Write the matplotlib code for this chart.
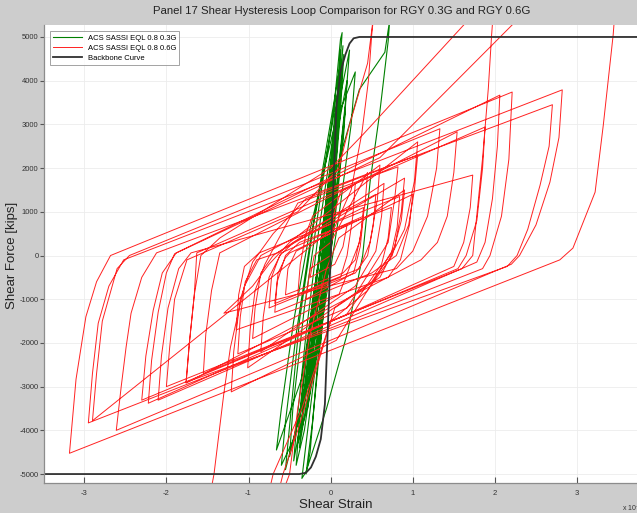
import numpy as np
import matplotlib
matplotlib.use('Agg')
import matplotlib.pyplot as plt

plt.rcParams['font.family'] = ['Liberation Sans Narrow', 'Liberation Sans', 'DejaVu Sans']
plt.rcParams['axes.unicode_minus'] = False

# ---------------- data (strain x1e-3, force kips) ----------------
title = 'Panel 17 Shear Hysteresis Loop Comparison for RGY 0.3G and RGY 0.6G'
series_names = ['ACS SASSI EQL 0.8 0.3G', 'ACS SASSI EQL 0.8 0.6G', 'Backbone Curve']

x_ticks = [-3, -2, -1, 0, 1, 2, 3]
y_ticks = [-5000, -4000, -3000, -2000, -1000, 0, 1000, 2000, 3000, 4000, 5000]

backbone = [(-3.6, -5000), (-0.38, -5000), (-0.30, -4970), (-0.24, -4850), (-0.18, -4600),
            (-0.12, -4200), (-0.07, -3400), (0.00, 0), (0.07, 3400), (0.12, 4200),
            (0.18, 4600), (0.23, 4850), (0.28, 4970), (0.35, 5000), (3.9, 5000)]

# 0.3G run (green), steep narrow loops
green = [(0.00, 0), (0.04, 1800), (0.10, 3600), (0.14, 4300),
         (0.10, 3000), (0.00, 800), (-0.10, -1200), (-0.20, -2600), (-0.28, -3500),
         (-0.24, -2400), (-0.12, -200), (0.00, 1800), (0.08, 3500), (0.15, 4800),
         (0.11, 3700), (0.02, 1500), (-0.10, -800), (-0.30, -3200), (-0.45, -4700),
         (-0.40, -3600), (-0.30, -1800), (-0.15, 500), (0.05, 3000), (0.23, 4700),
         (0.18, 3500), (0.05, 1200), (-0.15, -1500), (-0.40, -3800), (-0.55, -4900),
         (-0.50, -3900), (-0.38, -1500), (-0.20, 800), (0.02, 3000), (0.12, 4950), (0.14, 5100),
         (0.10, 4000), (0.00, 2000), (-0.15, -200), (-0.35, -2800), (-0.66, -4450),
         (-0.60, -3500), (-0.45, -1500), (-0.25, 600), (0.05, 3000), (0.30, 4200),
         (0.25, 3000), (0.10, 900), (-0.10, -1500), (-0.30, -3600), (-0.40, -4300),
         (-0.36, -3300), (-0.22, -1000), (0.00, 1500), (0.35, 3800), (0.66, 4650), (0.72, 5400),
         (0.70, 4900), (0.60, 3300), (0.48, 1680), (0.39, 0), (0.20, -1800), (-0.05, -3500),
         (-0.30, -4950), (-0.35, -5100),
         (-0.28, -4000), (-0.15, -2000), (0.00, 0), (0.10, 2000), (0.18, 3400),
         (0.13, 2300), (0.00, 300), (-0.15, -1800), (-0.25, -3000),
         (-0.18, -1500), (-0.05, 500), (0.06, 2500), (0.10, 3600),
         (0.05, 2200), (-0.05, 0), (-0.12, -2000),
         (-0.05, -500), (0.05, 1500), (0.02, 800), (-0.02, 0)]

green_late = [(-0.02, 0), (0.06, 2000), (0.12, 3800), (0.16, 4600),
              (0.12, 3300), (0.02, 1000), (-0.15, -1800), (-0.32, -4000), (-0.42, -4800),
              (-0.38, -3800), (-0.28, -2000), (-0.10, 600), (0.05, 2800), (0.10, 4200),
              (0.06, 3000), (-0.05, 600), (-0.22, -2200), (-0.45, -4200), (-0.60, -4800),
              (-0.55, -3800), (-0.42, -1800), (-0.25, 300), (-0.05, 2500), (0.12, 4400),
              (0.08, 3300), (-0.05, 900), (-0.20, -1500), (-0.35, -3900),
              (-0.28, -2500), (-0.15, -300), (0.03, 2300), (0.20, 4000),
              (0.16, 2800), (0.04, 600), (-0.12, -1600), (-0.25, -4500), (-0.30, -5000),
              (-0.22, -3800), (-0.10, -1500), (0.05, 1200), (0.08, 2800),
              (0.00, 800), (-0.08, -1000), (-0.02, 0),
              (0.04, 2200), (0.09, 4000), (0.12, 4700), (0.09, 3500), (0.00, 1200),
              (-0.18, -2000), (-0.38, -4400), (-0.33, -3200), (-0.20, -900), (-0.02, 1800),
              (0.10, 3900), (0.06, 2600), (-0.06, 300), (-0.26, -2800), (-0.50, -4600),
              (-0.46, -3500), (-0.32, -1200), (-0.12, 1400), (0.06, 3600), (0.02, 2400),
              (-0.10, 0), (-0.30, -3000), (-0.25, -1800), (-0.08, 200), (0.00, 0)]

# 0.6G run (red): small cycles near the centre
red_small = [(0.00, 0), (0.03, 900), (0.12, 1450), (0.30, 1650),
             (0.27, 900), (0.20, 0), (0.12, -500), (-0.40, -900),
             (-0.37, -200), (-0.30, 500), (-0.22, 900), (0.60, 2070),
             (0.57, 1300), (0.48, 300), (0.35, -300), (-0.68, -1100),
             (-0.64, -400), (-0.55, -50), (-0.50, 57), (1.00, 1400),
             (0.96, 700), (0.85, -100), (0.70, -500), (-1.15, -1700),
             (-1.12, -900), (-1.05, -250), (-0.87, 60), (0.84, 1350),
             (0.81, 650), (0.74, 57), (0.50, -600), (-1.01, -2570),
             (-0.98, -1700), (-0.92, -800), (-0.80, -200), (-0.40, 1200), (0.82, 2030),
             (0.78, 1300), (0.70, 300), (0.20, -1200), (-1.13, -2250),
             (-1.10, -1400), (-1.04, -600), (-0.90, -100), (-0.65, 60), (0.90, 1770),
             (0.86, 1000), (0.78, 200), (0.07, -1940), (-1.21, -3120),
             (-1.18, -2200), (-1.10, -1000), (-0.95, -150), (-0.70, 500), (-0.30, 1300), (1.06, 2300),
             (1.02, 1500), (0.95, 700), (0.80, 0), (0.50, -400), (-0.68, -1300),
             (-0.65, -600), (-0.55, 0), (-0.38, 300), (0.74, 1100),
             (0.70, 400), (0.62, -200), (0.19, -1360), (-1.55, -2700),
             (-1.52, -1800), (-1.45, -800), (-1.35, 60)]

# red: large cycles
red_large = [(1.54, 2830), (1.50, 1900), (1.42, 900), (1.30, 300), (1.10, -100),
             (-1.76, -2920), (-1.72, -2000), (-1.66, -900), (-1.63, 60),
             (1.88, 2940), (1.85, 2000), (1.78, 800), (1.65, 0), (1.55, -300),
             (-2.30, -3310), (-2.25, -2300), (-2.16, -1250), (-2.05, -400), (-1.88, 60),
             (2.06, 3670), (2.03, 2500), (1.97, 1300), (1.88, 300), (1.78, -150),
             (-2.10, -3310), (-2.06, -2300), (-1.98, -1200), (-1.85, -300), (-1.70, 60),
             (1.73, 1840), (1.70, 1100), (1.62, 300), (1.50, -250),
             (-2.22, -3380), (-2.18, -2400), (-2.10, -1300), (-2.00, -400), (-1.90, 40),
             (0.60, 2240), (2.09, 5050), (3.55, 7800), (3.44, 5050), (3.32, 2990),
             (3.22, 1450), (2.95, 170), (2.79, -100),
             (-3.18, -4525), (-3.10, -2830), (-2.98, -1400), (-2.85, -600), (-2.68, 0),
             (2.21, 3740), (2.17, 2200), (2.08, 900), (1.94, 0), (1.85, -300),
             (-2.95, -3830), (-2.90, -2700), (-2.83, -1550), (-2.70, -700), (-2.52, -100),
             (2.82, 3790), (2.78, 2700), (2.67, 1680), (2.50, 700), (2.30, 0), (2.20, -200),
             (-2.61, -4000), (-2.55, -3000), (-2.49, -2090), (-2.43, -1320), (-2.30, -500), (-2.12, 60),
             (2.70, 3450), (2.66, 2500), (2.55, 1610), (2.40, 600), (2.27, 0), (2.15, -250),
             (-1.76, -2900), (-1.72, -2000), (-1.66, -900), (-1.58, 0), (-1.35, 400)]

# red: excursions beyond the plotted force range, then decaying cycles
red_late = [(0.00, 2000), (0.39, 2760), (1.51, 5050), (2.00, 6050), (1.96, 5050),
            (1.92, 3830), (1.85, 2230), (1.73, 0), (1.60, -300),
            (-2.00, -3000), (-1.96, -2100), (-1.90, -1000), (-1.75, -100),
            (-0.40, 1000), (0.10, 2000), (0.23, 2990), (0.45, 4400), (0.53, 5600),
            (0.50, 5050), (0.46, 4000), (0.38, 2800), (0.25, 1500), (0.05, 650),
            (-2.90, -3780), (-2.85, -2700), (-2.78, -1500), (-2.60, -300), (-2.45, 0),
            (1.33, 2900), (1.29, 2000), (1.18, 900), (1.00, 100), (0.80, -300),
            (-1.30, -1320), (-0.95, -700), (-0.75, -200), (-0.50, 300),
            (1.06, 2600), (1.02, 1700), (0.90, 600), (0.60, -500), (0.05, -1200),
            (-0.40, -4000), (-0.58, -5000), (-0.66, -5600), (-0.54, -5200), (-0.50, -5000),
            (-0.40, -3500), (-0.25, -1800), (-0.05, -300), (0.10, 400),
            (0.90, 1500), (0.86, 800), (0.75, 0), (0.45, -800), (0.00, -1500),
            (-0.35, -3500), (-0.70, -5000), (-0.80, -5800), (-1.50, -5800),
            (-1.42, -5000), (-1.30, -3150), (-1.22, -2100), (-1.05, -700), (-0.85, 0),
            (0.55, 1400), (0.52, 700), (0.45, 0), (0.30, -400), (-0.75, -1200),
            (-0.72, -500), (-0.62, 0), (-0.45, 300), (0.40, 1100), (0.37, 500),
            (0.30, -100), (0.15, -400), (-0.55, -900), (-0.52, -300), (-0.42, 100),
            (0.20, 700), (0.15, 200), (0.05, -200), (-0.25, -500), (-0.20, 0), (0.00, 300)]

# red: a few more mid-size loops in the central cluster
red_mid = [(0.00, 300), (0.45, 1900), (0.42, 1200), (0.35, 300), (0.10, -900),
           (-0.95, -1900), (-0.92, -1200), (-0.85, -400), (-0.70, 0),
           (0.65, 1650), (0.62, 900), (0.55, 100), (0.30, -700),
           (-0.85, -2200), (-0.82, -1400), (-0.75, -500), (-0.60, 60),
           (0.40, 900), (0.36, 200), (0.28, -400), (-0.30, -1000),
           (-0.25, -300), (0.00, 0)]

red = red_small + red_large + red_late + red_mid
green = green + green_late

# ---------------- figure ----------------
fig = plt.figure(figsize=(6.37, 5.13), dpi=100, facecolor='#cdcdcd')
ax = fig.add_axes([44/637, 30/513, 1 - 44/637, 458/513])
ax.set_facecolor('white')

gx, gy = zip(*green)
rx, ry = zip(*red)
bx, by = zip(*backbone)
ax.plot(gx, gy, color='#008000', lw=0.8, label=series_names[0])
ax.plot(rx, ry, color='#ff2222', lw=0.7, label=series_names[1])
ax.plot(bx, by, color='#303030', lw=1.3, label=series_names[2])

ax.set_xlim(-3.49, 3.73)
ax.set_ylim(-5205, 5274)
ax.set_xticks(x_ticks)
ax.set_yticks(y_ticks)
ax.grid(True, color='#ececec', lw=0.6)
ax.set_axisbelow(True)
ax.tick_params(axis='x', direction='in', length=4, labelsize=5.5, pad=5, colors='#555555', labelcolor='#333333')
ax.tick_params(axis='y', direction='out', length=3, labelsize=5.5, pad=1, colors='#555555', labelcolor='#333333')
for s in ['top', 'right']:
    ax.spines[s].set_visible(False)
for s in ['left', 'bottom']:
    ax.spines[s].set_color('#8c8c8c')
    ax.spines[s].set_linewidth(0.9)

leg = ax.legend(loc='upper left', fontsize=5.5, handlelength=3.8, labelspacing=0.35,
                borderpad=0.4, frameon=True, fancybox=False, bbox_to_anchor=(0.003, 0.995))
leg.get_frame().set_edgecolor('#8c8c8c')
leg.get_frame().set_linewidth(0.7)

fig.text(342/637, 1 - 11/513, title, ha='center', va='center', fontsize=8.2, color='#222222')
fig.text(12/637, 1 - 255/513, 'Shear Force [kips]', rotation=90, ha='center', va='center',
         fontsize=9.5, color='#222222')
fig.text(336/637, 1 - 505/513, 'Shear Strain', ha='center', va='center', fontsize=9.5, color='#222222')
fig.text(622/637, 1 - 508/513, 'x 10$^{-3}$', ha='left', va='center', fontsize=5, color='#333333')

fig.savefig('out.png', dpi=100, facecolor=fig.get_facecolor())
